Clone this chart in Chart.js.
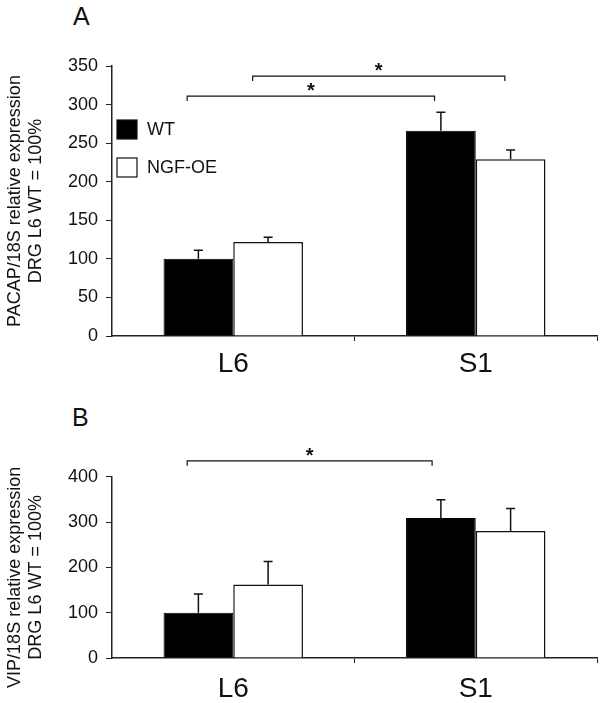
<!DOCTYPE html>
<html>
<head>
<meta charset="utf-8">
<script src="https://cdn.jsdelivr.net/npm/chart.js@4"></script>
<style>
  body { margin: 0; background: #fff; }
  .panel { position: absolute; left: 0; width: 602px; }
  .letter { position: absolute; font: 25px 'Liberation Sans', Arial, sans-serif; line-height: 25px; color: #111; }
</style>
</head>
<body>
<div class="letter" style="left:73px; top:4px;">A</div>
<div class="letter" style="left:72px; top:405px;">B</div>
<div class="panel" style="top:0; height:380px;"><canvas id="pacapChart" width="602" height="380"></canvas></div>
<div class="panel" style="top:380px; height:323px;"><canvas id="vipChart" width="602" height="323"></canvas></div>
<script>
const categories = ['L6', 'S1'];
const seriesNames = ['WT', 'NGF-OE'];

// panel A - PACAP
const pacapWT = [100, 266];
const pacapWTErr = [11, 24];
const pacapNGF = [122, 229];
const pacapNGFErr = [6, 12];
const pacapMax = 350, pacapStep = 50;
// significance brackets, x in category units, y in data units
const pacapBracketFrom = [-0.19, 0.08];
const pacapBracketTo = [0.83, 1.12];
const pacapBracketY = [311, 337];

// panel B - VIP
const vipWT = [100, 309];
const vipWTErr = [41, 40];
const vipNGF = [162, 280];
const vipNGFErr = [51, 50];
const vipMax = 400, vipStep = 100;
const vipBracketFrom = [-0.19];
const vipBracketTo = [0.82];
const vipBracketY = [435];

const FONT = "'Liberation Sans', Arial, sans-serif";
const INK = '#111';

const errorBars = {
    id: 'errorBars',
    afterDatasetsDraw(chart) {
        const ctx = chart.ctx;
        const y = chart.scales.y;
        ctx.save();
        ctx.strokeStyle = INK;
        ctx.lineWidth = 1.5;
        chart.data.datasets.forEach((ds, i) => {
            chart.getDatasetMeta(i).data.forEach((bar, j) => {
                const top = y.getPixelForValue(ds.data[j] + ds.errors[j]);
                ctx.beginPath();
                ctx.moveTo(bar.x, bar.y);
                ctx.lineTo(bar.x, top);
                ctx.moveTo(bar.x - 4.5, top);
                ctx.lineTo(bar.x + 4.5, top);
                ctx.stroke();
            });
        });
        ctx.restore();
    }
};

const extras = {
    id: 'extras',
    afterDraw(chart, args, opts) {
        const ctx = chart.ctx;
        const x = chart.scales.x, y = chart.scales.y;
        const area = chart.chartArea;
        const p0 = x.getPixelForValue(0), cw = x.getPixelForValue(1) - p0;
        ctx.save();
        // brackets
        ctx.strokeStyle = INK;
        ctx.lineWidth = 1.2;
        ctx.fillStyle = INK;
        opts.from.forEach((f, k) => {
            const x1 = p0 + f * cw, x2 = p0 + opts.to[k] * cw;
            const yy = y.getPixelForValue(opts.y[k]);
            ctx.beginPath();
            ctx.moveTo(x1, yy + 5);
            ctx.lineTo(x1, yy);
            ctx.lineTo(x2, yy);
            ctx.lineTo(x2, yy + 5);
            ctx.stroke();
            ctx.font = 'bold 20px ' + FONT;
            ctx.textAlign = 'center';
            ctx.textBaseline = 'alphabetic';
            ctx.fillText('*', (x1 + x2) / 2, yy + 1);
        });
        // y title
        ctx.font = '18px ' + FONT;
        ctx.textAlign = 'center';
        ctx.textBaseline = 'middle';
        ctx.translate(14.8, (area.top + area.bottom) / 2 + opts.titleShift);
        ctx.rotate(-Math.PI / 2);
        opts.title.forEach((t, i) => ctx.fillText(t, 0, i * 21.6));
        ctx.restore();
        // legend
        if (opts.legend) {
            ctx.save();
            ctx.font = '18px ' + FONT;
            ctx.textAlign = 'left';
            ctx.textBaseline = 'middle';
            const tops = [54, 92];
            chart.data.datasets.forEach((ds, i) => {
                const bx = area.left + 5, by = area.top + tops[i];
                ctx.fillStyle = ds.backgroundColor;
                ctx.fillRect(bx, by, 20, 19);
                ctx.strokeStyle = INK;
                ctx.lineWidth = 1.2;
                ctx.strokeRect(bx, by, 20, 19);
                ctx.fillStyle = INK;
                ctx.fillText(ds.label, bx + 30, by + 10);
            });
            ctx.restore();
        }
    }
};

function makeChart(id, wt, wtErr, ngf, ngfErr, max, step, pad, xHeight, labelPad, extraOpts) {
    return new Chart(document.getElementById(id), {
        type: 'bar',
        data: {
            labels: categories,
            datasets: [{
                label: seriesNames[0],
                data: wt,
                errors: wtErr,
                backgroundColor: '#000',
                borderColor: '#000',
                borderWidth: 1
            }, {
                label: seriesNames[1],
                data: ngf,
                errors: ngfErr,
                backgroundColor: '#fff',
                borderColor: INK,
                borderWidth: 1.5
            }]
        },
        options: {
            responsive: false,
            animation: false,
            categoryPercentage: 0.575,
            barPercentage: 1,
            layout: { padding: { top: pad, right: 5, left: 0, bottom: 0 } },
            scales: {
                x: {
                    afterFit: s => { s.height = xHeight; },
                    grid: {
                        drawOnChartArea: false,
                        tickLength: 5,
                        color: c => c.index === 0 ? 'rgba(0,0,0,0)' : '#222'
                    },
                    border: { color: '#222', width: 1.5 },
                    ticks: { color: INK, padding: labelPad, font: { family: FONT, size: 28 } }
                },
                y: {
                    min: 0,
                    max: max,
                    afterFit: s => { s.width = 112; },
                    grid: { drawOnChartArea: false, tickLength: 6, color: '#222' },
                    border: { color: '#222', width: 1.5 },
                    ticks: { stepSize: step, color: INK, padding: 8, font: { family: FONT, size: 18 } }
                }
            },
            plugins: {
                legend: { display: false },
                tooltip: { enabled: false },
                extras: extraOpts
            }
        },
        plugins: [errorBars, extras]
    });
}

makeChart('pacapChart', pacapWT, pacapWTErr, pacapNGF, pacapNGFErr, pacapMax, pacapStep, 66, 44, 6, {
    from: pacapBracketFrom, to: pacapBracketTo, y: pacapBracketY,
    title: ['PACAP/18S relative expression', 'DRG L6 WT = 100%'],
    titleShift: 0,
    legend: true
});

makeChart('vipChart', vipWT, vipWTErr, vipNGF, vipNGFErr, vipMax, vipStep, 96.7, 45, 9, {
    from: vipBracketFrom, to: vipBracketTo, y: vipBracketY,
    title: ['VIP/18S relative expression', 'DRG L6 WT = 100%'],
    titleShift: 10,
    legend: false
});
</script>
</body>
</html>
